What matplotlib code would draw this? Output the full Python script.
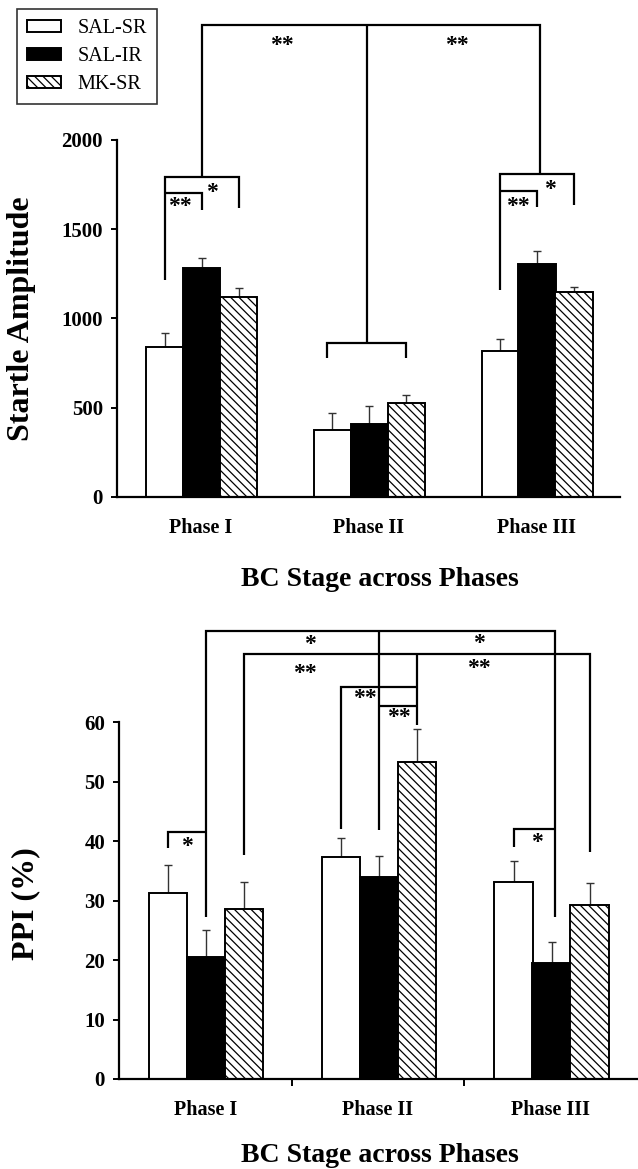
import numpy as np
import matplotlib
matplotlib.use("Agg")
import matplotlib.pyplot as plt

plt.rcParams['font.family'] = ['Liberation Serif', 'DejaVu Serif']
plt.rcParams['hatch.linewidth'] = 0.9

# ---------------- data ----------------
phases = ['Phase I', 'Phase II', 'Phase III']
groups = ['SAL-SR', 'SAL-IR', 'MK-SR']

startle_sal_sr = [840, 375, 818]
startle_sal_ir = [1283, 409, 1305]
startle_mk_sr = [1120, 526, 1148]
startle_err_sal_sr = [78, 96, 67]
startle_err_sal_ir = [56, 101, 73]
startle_err_mk_sr = [51, 45, 28]

ppi_sal_sr = [31.3, 37.3, 33.2]
ppi_sal_ir = [20.5, 34.0, 19.5]
ppi_mk_sr = [28.6, 53.3, 29.2]
ppi_err_sal_sr = [4.7, 3.2, 3.4]
ppi_err_sal_ir = [4.5, 3.5, 3.5]
ppi_err_mk_sr = [4.5, 5.5, 3.8]

startle_ticks = [0, 500, 1000, 1500, 2000]
ppi_ticks = [0, 10, 20, 30, 40, 50, 60]

# ---------------- style ----------------
offsets = [-0.215, 0.005, 0.225]
bar_w = 0.222
face = ['white', 'black', 'white']
hatches = [None, None, '\\\\\\\\']

fig = plt.figure(figsize=(6.38, 11.69), dpi=100)
W, H = 638, 1169

ax1 = fig.add_axes([117 / W, 1 - 497 / H, 503 / W, 482 / H])
ax2 = fig.add_axes([119 / W, 1 - 1079 / H, 518 / W, 458 / H])


def draw_bars(ax, means, errs):
    x = np.arange(len(phases))
    for g, (m, e) in enumerate(zip(means, errs)):
        ax.bar(x + offsets[g], m, width=bar_w, color=face[g], edgecolor='black',
               linewidth=1.4, hatch=hatches[g], label=groups[g], zorder=2)
        ax.errorbar(x + offsets[g], m, yerr=[np.zeros(len(m)), e], fmt='none',
                    ecolor='#333333', elinewidth=1.0, capsize=3, capthick=1.0, zorder=1)


def bx(p, g):
    return p + offsets[g]


def line(ax, xs, ys):
    ax.plot(xs, ys, color='black', lw=1.6, clip_on=False, solid_capstyle='butt',
            solid_joinstyle='miter', zorder=3)


def stars(ax, x, y, s):
    ax.text(x, y, s, ha='center', va='center', fontsize=17, fontweight='bold',
            clip_on=False)


def style_axis(ax, ymax, ylim_top, ticks):
    ax.set_xlim(-0.5, 2.5)
    ax.set_ylim(0, ylim_top)
    for sp in ['top', 'right']:
        ax.spines[sp].set_visible(False)
    ax.spines['left'].set_bounds(0, ymax)
    ax.spines['left'].set_linewidth(1.6)
    ax.spines['bottom'].set_linewidth(1.6)
    ax.set_yticks(ticks)
    ax.set_xticks(range(len(phases)))
    ax.set_xticklabels(phases)
    ax.tick_params(axis='y', direction='out', length=4, width=1.4, pad=6,
                   labelsize=15)
    ax.tick_params(axis='x', which='major', length=0, pad=15, labelsize=14.5)
    for lab in ax.get_xticklabels() + ax.get_yticklabels():
        lab.set_fontweight('bold')


# ---------------- top panel ----------------
draw_bars(ax1, [startle_sal_sr, startle_sal_ir, startle_mk_sr],
          [startle_err_sal_sr, startle_err_sal_ir, startle_err_mk_sr])
style_axis(ax1, 2000, 2700, startle_ticks)

# Phase I brackets
line(ax1, [bx(0, 0), bx(0, 0), bx(0, 2), bx(0, 2)], [1216, 1793, 1793, 1619])
line(ax1, [bx(0, 0), bx(0, 1), bx(0, 1)], [1703, 1703, 1608])
# Phase III brackets
line(ax1, [bx(2, 0), bx(2, 0), bx(2, 2), bx(2, 2)], [1160, 1810, 1810, 1636])
line(ax1, [bx(2, 0), bx(2, 1), bx(2, 1)], [1714, 1714, 1625])
# Phase II bracket
line(ax1, [bx(1, 0) - 0.03, bx(1, 0) - 0.03, bx(1, 2), bx(1, 2)], [779, 863, 863, 779])
# big bracket
c1 = (bx(0, 0) + bx(0, 2)) / 2
c2 = (bx(1, 0) - 0.03 + bx(1, 2)) / 2
c3 = (bx(2, 0) + bx(2, 2)) / 2 + 0.02
line(ax1, [c1, c1, c3, c3], [1793, 2644, 2644, 1810])
line(ax1, [c2, c2], [863, 2644])

stars(ax1, -0.125, 1630, '**')
stars(ax1, 0.066, 1705, '*')
stars(ax1, 1.89, 1630, '**')
stars(ax1, 2.081, 1720, '*')
stars(ax1, 0.483, 2530, '**')
stars(ax1, 1.527, 2530, '**')

ax1.set_ylabel('Startle Amplitude', fontsize=23, fontweight='bold', va='center')
ax1.yaxis.set_label_coords(-0.189, 0.369)
ax1.set_xlabel('BC Stage across Phases', fontsize=20, fontweight='bold', va='center')
ax1.xaxis.set_label_coords(0.523, -0.172)

# ---------------- bottom panel ----------------
draw_bars(ax2, [ppi_sal_sr, ppi_sal_ir, ppi_mk_sr],
          [ppi_err_sal_sr, ppi_err_sal_ir, ppi_err_mk_sr])
style_axis(ax2, 60, 77, ppi_ticks)
ax2.set_xticks([0.5, 1.5], minor=True)
ax2.tick_params(axis='x', which='minor', direction='out', length=5, width=1.4)

# outer bracket 1 (SAL-IR across phases)
line(ax2, [bx(0, 1), bx(0, 1), bx(2, 1) + 0.02, bx(2, 1) + 0.02], [27.2, 75.3, 75.3, 27.2])
line(ax2, [bx(1, 1), bx(1, 1)], [41.8, 75.3])
# outer bracket 2 (MK-SR across phases)
line(ax2, [bx(0, 2), bx(0, 2), bx(2, 2), bx(2, 2)], [37.6, 71.4, 71.4, 38.2])
line(ax2, [bx(1, 2), bx(1, 2)], [59.5, 71.4])
# Phase I
line(ax2, [bx(0, 0), bx(0, 0), bx(0, 1)], [38.8, 41.5, 41.5])
# Phase III
line(ax2, [bx(2, 0), bx(2, 0), bx(2, 1) + 0.02], [39.0, 42.0, 42.0])
# Phase II
line(ax2, [bx(1, 0), bx(1, 0), bx(1, 2)], [42.0, 65.9, 65.9])
line(ax2, [bx(1, 1), bx(1, 2)], [62.7, 62.7])

stars(ax2, 0.606, 73.0, '*')
stars(ax2, 1.585, 73.2, '*')
stars(ax2, 0.577, 68.2, '**')
stars(ax2, 1.585, 69.0, '**')
stars(ax2, 0.925, 64.0, '**')
stars(ax2, 1.122, 60.7, '**')
stars(ax2, -0.106, 39.1, '*')
stars(ax2, 1.921, 39.8, '*')

ax2.set_ylabel('PPI (%)', fontsize=23, fontweight='bold', va='center')
ax2.yaxis.set_label_coords(-0.181, 0.382)
ax2.set_xlabel('BC Stage across Phases', fontsize=20, fontweight='bold', va='center')
ax2.xaxis.set_label_coords(0.504, -0.168)

# ---------------- legend ----------------
handles, labels = ax1.get_legend_handles_labels()
leg = fig.legend(handles, labels, loc='upper left',
                 bbox_to_anchor=(17 / W, 1 - 9 / H), borderaxespad=0,
                 fontsize=14.5, frameon=True, fancybox=False, edgecolor='black',
                 handlelength=1.7, handleheight=0.6, labelspacing=0.45,
                 handletextpad=0.8, borderpad=0.5)
leg.get_frame().set_linewidth(1.2)

fig.savefig('out.png', dpi=100)
